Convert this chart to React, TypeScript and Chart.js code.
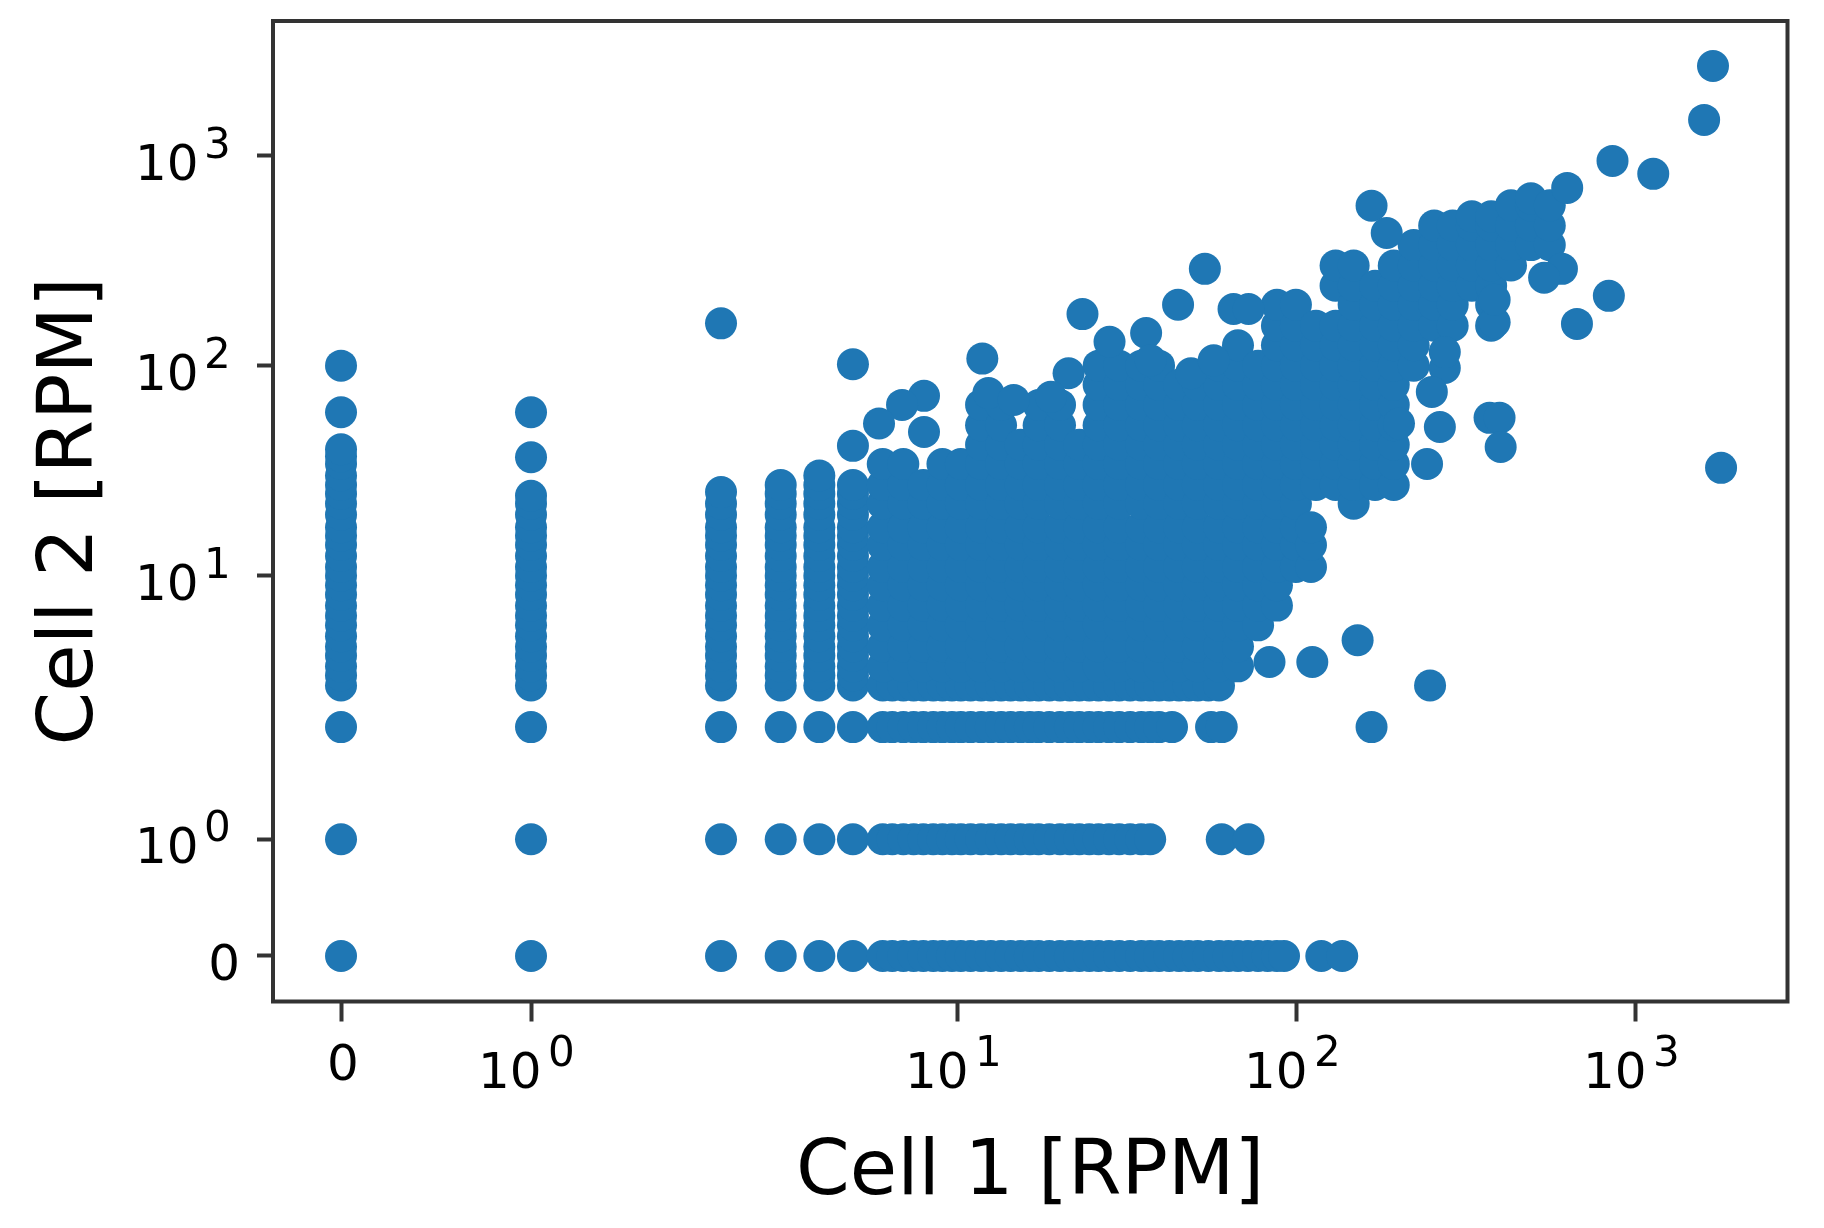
import React, { useEffect, useRef } from "react";
import { Chart, LinearScale, registerables } from "chart.js";

const xTickValues = [0, 1, 10, 100, 1000];
const xTickLabels = ["0", "10^0", "10^1", "10^2", "10^3"];
const yTickValues = [0, 1, 10, 100, 1000];
const yTickLabels = ["0", "10^0", "10^1", "10^2", "10^3"];
const xAxisTitle = "Cell 1 [RPM]";
const yAxisTitle = "Cell 2 [RPM]";

// Cell 2 values in the discrete columns at the left of the plot
const colAt0 = [3, 3.35, 3.7, 4.15, 4.6, 5.15, 5.8, 6.45, 7.2, 8.1, 9, 10, 11, 12.4, 14, 15.5, 17, 19.5, 22, 24.5, 27, 30, 34, 37, 40, 60, 100];
const colAt1 = [3, 3.35, 3.7, 4.15, 4.6, 5.15, 5.8, 6.45, 7.2, 8.1, 9, 10, 11, 12.4, 14, 15.5, 17, 19.5, 22, 24, 36.6, 60];
const colAt2 = [3, 3.35, 3.7, 4.15, 4.6, 5.15, 5.8, 6.45, 7.2, 8.1, 9, 10, 11, 12.4, 14, 15.5, 17, 19.5, 22, 25, 159];
const colAt3 = [3, 3.35, 3.7, 4.15, 4.6, 5.15, 5.8, 6.45, 7.2, 8.1, 9, 10, 11, 12.4, 14, 15.5, 17, 19.5, 22, 24.5, 27];
const colAt3_9 = [3, 3.35, 3.7, 4.15, 4.6, 5.15, 5.8, 6.45, 7.2, 8.1, 9, 10, 11, 12.4, 14, 15.5, 17, 19.5, 22, 24.5, 27, 30];
const colAt4_9 = [3, 3.35, 3.7, 4.15, 4.6, 5.15, 5.8, 6.45, 7.2, 8.1, 9, 10, 11, 12.4, 14, 15.5, 17, 19.5, 22, 24.5, 27, 41.5, 101.5];
const discreteX = [0, 1, 2, 3, 3.9, 4.9];
const discreteCols = [colAt0, colAt1, colAt2, colAt3, colAt3_9, colAt4_9];

// Cell 1 values along the discrete rows at the bottom of the plot
const rowAt0 = [0, 1, 2, 3, 3.9, 4.9, 6, 6.4, 6.9, 7.4, 7.9, 8.45, 9, 9.6, 10.2, 10.9, 11.7, 12.5, 13.4, 14.3, 15.3, 16.3, 17.3, 18.6, 20, 21.4, 22.8, 24.4, 26, 27.9, 29.9, 32.2, 34.7, 36.9, 39.2, 42, 44.9, 47.9, 51, 54.8, 58.9, 62.8, 67, 71.7, 76.8, 82, 87.3, 91.6, 118, 136];
const rowAt1 = [0, 1, 2, 3, 3.9, 4.9, 6, 6.4, 6.9, 7.4, 7.9, 8.45, 9, 9.6, 10.2, 10.9, 11.7, 12.5, 13.4, 14.3, 15.3, 16.3, 17.3, 18.6, 20, 21.4, 22.8, 24.4, 26, 27.9, 29.9, 32.2, 34.7, 36.9, 60, 72];
const rowAt2 = [0, 1, 2, 3, 3.9, 4.9, 6, 6.4, 6.9, 7.4, 7.9, 8.45, 9, 9.6, 10.2, 10.9, 11.7, 12.5, 13.4, 14.3, 15.3, 16.3, 17.3, 18.6, 20, 21.4, 22.8, 24.4, 26, 27.9, 29.9, 32.2, 34.7, 36.9, 39.2, 42.8, 55.8, 60, 166];
const rowAt3 = [6, 6.4, 6.9, 7.4, 7.9, 8.45, 9, 9.6, 10.2, 10.9, 11.7, 12.5, 13.4, 14.3, 15.3, 16.3, 17.3, 18.6, 20, 21.4, 22.8, 24.4, 26, 27.9, 29.9, 32.2, 34.7, 36.9, 39.2, 42, 44.9, 47.9, 51, 54.8, 58.9];
const rowY = [0, 1, 1.96, 3];
const rowLists = [rowAt0, rowAt1, rowAt2, rowAt3];

// Cell 2 values of the dense cloud, one list per Cell 1 value
const at6_0 = [3.7, 4.6, 5.8, 7.2, 9, 11, 14, 17, 22, 27, 34];
const at6_9 = [3.7, 4.6, 5.8, 7.2, 9, 11, 14, 17, 22, 27, 34];
const at7_9 = [3.7, 4.6, 5.8, 7.2, 9, 11, 14, 17, 22, 27];
const at9_0 = [3.7, 4.6, 5.8, 7.2, 9, 11, 14, 17, 22, 27, 34];
const at10_2 = [3.7, 4.6, 5.8, 7.2, 9, 11, 14, 17, 22, 27, 34];
const at11_7 = [3.7, 4.6, 5.8, 7.2, 9, 11, 14, 17, 22, 27, 34, 42, 52, 65];
const at13_4 = [3.7, 4.6, 5.8, 7.2, 9, 11, 14, 17, 22, 27, 34, 42, 52, 65];
const at15_3 = [3.7, 4.6, 5.8, 7.2, 9, 11, 14, 17, 22, 27, 34, 42];
const at17_3 = [3.7, 4.6, 5.8, 7.2, 9, 11, 14, 17, 22, 27, 34, 42, 52, 65];
const at20 = [3.7, 4.6, 5.8, 7.2, 9, 11, 14, 17, 22, 27, 34, 42, 52, 65];
const at22_8 = [3.7, 4.6, 5.8, 7.2, 9, 11, 14, 17, 22, 27, 34, 42];
const at26 = [3.7, 4.6, 5.8, 7.2, 9, 11, 14, 17, 22, 27, 34, 42, 52, 65, 81, 100];
const at29_9 = [3.7, 4.6, 5.8, 7.2, 9, 11, 14, 17, 22, 27, 34, 42, 52, 65, 81, 100];
const at34_7 = [3.7, 4.6, 5.8, 7.2, 9, 11, 14, 17, 22, 27, 34, 42, 52, 65, 81, 100];
const at39_2 = [3.7, 4.6, 5.8, 7.2, 9, 11, 14, 17, 22, 27, 34, 42, 52, 65, 81, 100];
const at44_9 = [3.7, 4.6, 5.8, 7.2, 9, 11, 14, 17, 22, 27, 34, 42, 52, 65, 81];
const at51 = [3.7, 4.6, 5.8, 7.2, 9, 11, 14, 17, 22, 27, 34, 42, 52, 65, 81];
const at58_9 = [3.7, 4.6, 5.8, 7.2, 9, 11, 14, 17, 22, 27, 34, 42, 52, 65, 81, 100];
const at67 = [3.7, 4.6, 5.8, 7.2, 9, 11, 14, 17, 22, 27, 34, 42, 52, 65, 81, 100, 125];
const at76_8 = [5.8, 7.2, 9, 11, 14, 17, 22, 27, 34, 42, 52, 65, 81, 100];
const at87_3 = [7.2, 9, 11, 14, 17, 22, 27, 34, 42, 52, 65, 81, 100, 125, 155, 195];
const at99_3 = [11, 14, 17, 22, 27, 34, 42, 52, 65, 81, 100, 125, 155, 195];
const at113_8 = [27, 34, 42, 52, 65, 81, 100, 125, 155];
const at130 = [27, 34, 42, 52, 65, 81, 100, 125, 155, 240, 300];
const at147 = [22, 27, 34, 42, 52, 65, 81, 100, 125, 155, 195, 240, 300];
const at170 = [27, 34, 42, 52, 65, 81, 100, 125, 155, 195, 240];
const at193 = [27, 34, 42, 52, 65, 81, 100, 125, 155, 195, 240, 300];
const at221 = [100, 125, 155, 195, 240, 300, 375];
const at254 = [155, 195, 240, 300, 375, 465];
const at288 = [155, 195, 240, 300, 375, 465];
const at328 = [240, 300, 375, 465, 514];
const at374 = [155, 195, 240, 300, 375, 465, 514];
const at428 = [300, 375, 465, 580];
const at490 = [375, 465, 580, 626];
const at557 = [375, 465, 580];
const denseX = [6, 6.9, 7.9, 9, 10.2, 11.7, 13.4, 15.3, 17.3, 20, 22.8, 26, 29.9, 34.7, 39.2, 44.9, 51, 58.9, 67, 76.8, 87.3, 99.3, 113.8, 130, 147, 170, 193, 221, 254, 288, 328, 374, 428, 490, 557];
const denseCols = [at6_0, at6_9, at7_9, at9_0, at10_2, at11_7, at13_4, at15_3, at17_3, at20, at22_8, at26, at29_9, at34_7, at39_2, at44_9, at51, at58_9, at67, at76_8, at87_3, at99_3, at113_8, at130, at147, at170, at193, at221, at254, at288, at328, at374, at428, at490, at557];

// Scattered cells around the cloud
const looseX = [1688, 1589, 853, 1125, 627, 166, 184, 53.5, 44.6, 23.3, 65, 72, 832, 670, 605, 536, 383, 383, 1783, 370, 396, 399, 264, 242, 273, 273, 250, 200, 11.8, 7.94, 6.84, 5.85, 7.94, 28, 35.9, 21.2, 37, 48.7, 56.8, 12.3, 14.6, 18.8, 83, 111, 151, 247, 110, 110, 110];
const looseY = [2673, 1479, 944, 819, 702, 577, 428, 289, 195, 176, 186, 186, 215, 158, 289, 262, 161, 206, 32.6, 56.4, 56.4, 41, 51, 34, 97.5, 116, 75, 53, 108, 71.8, 65, 53, 48.3, 130, 143, 92, 106, 92, 106, 74, 68.7, 71, 3.88, 3.88, 4.93, 3, 11, 14, 17];

const points: { x: number; y: number }[] = [
  ...discreteX.flatMap((x, i) => discreteCols[i].map((y) => ({ x, y }))),
  ...rowY.flatMap((y, i) => rowLists[i].map((x) => ({ x, y }))),
  ...denseX.flatMap((x, i) => denseCols[i].map((y) => ({ x, y }))),
  ...looseX.map((x, i) => ({ x, y: looseY[i] })),
];

const INK = "#000000";
const SPINE = "#333333";
const MANTISSA = "50px 'DejaVu Sans'";
const EXPONENT = "42px 'DejaVu Sans'";

class SymlogScale extends (LinearScale as any) {
  static id = "symlog";
  static defaults = {};

  span() {
    return this.axis === "x" ? 1.121 : 1.112;
  }
  forward(v: number) {
    const k = this.span();
    return v <= 2 ? (v * k) / 2 : k + Math.log10(v / 2);
  }
  determineDataLimits() {
    this.min = this.options.min;
    this.max = this.options.max;
  }
  buildTicks() {
    const vals = this.axis === "x" ? xTickValues : yTickValues;
    return vals.map((value) => ({ value }));
  }
  getPixelForValue(v: number) {
    const a = this.forward(this.min);
    const b = this.forward(this.max);
    return this.getPixelForDecimal((this.forward(v) - a) / (b - a));
  }
  getValueForPixel(p: number) {
    const a = this.forward(this.min);
    const b = this.forward(this.max);
    const t = a + this.getDecimalForPixel(p) * (b - a);
    const k = this.span();
    return t <= k ? (t * 2) / k : 2 * Math.pow(10, t - k);
  }
  drawLabels() {
    const ctx = this.ctx;
    ctx.save();
    ctx.fillStyle = INK;
    ctx.textBaseline = "alphabetic";
    ctx.textAlign = "left";
    for (const tick of this.ticks) {
      const p = this.getPixelForValue(tick.value);
      const [base, exp] = String(tick.label).split("^");
      if (this.axis === "x") {
        if (exp === undefined) {
          ctx.font = MANTISSA;
          ctx.textAlign = "center";
          ctx.fillText(base, p + 2, 1080);
          ctx.textAlign = "left";
        } else {
          ctx.font = MANTISSA;
          ctx.fillText(base, p - 53, 1088);
          ctx.font = EXPONENT;
          ctx.fillText(exp, p + 17, 1066);
        }
      } else if (exp === undefined) {
        ctx.font = MANTISSA;
        ctx.textAlign = "right";
        ctx.fillText(base, 240, p + 24);
        ctx.textAlign = "left";
      } else {
        ctx.font = MANTISSA;
        ctx.fillText(base, 135, p + 24);
        ctx.font = EXPONENT;
        ctx.fillText(exp, 204, p + 2);
      }
    }
    ctx.restore();
  }
}

Chart.register(...registerables, SymlogScale as any);

const spines = {
  id: "spines",
  afterDatasetsDraw(chart: any) {
    const { left, top, right, bottom } = chart.chartArea;
    const ctx = chart.ctx;
    ctx.save();
    ctx.strokeStyle = SPINE;
    ctx.lineWidth = 4;
    ctx.strokeRect(left, top, right - left, bottom - top);
    ctx.restore();
  },
};

const noPadding = (s: any) => {
  s.paddingTop = 0;
  s.paddingBottom = 0;
  s.paddingLeft = 0;
  s.paddingRight = 0;
};

export default function App() {
  const ref = useRef<HTMLCanvasElement | null>(null);
  useEffect(() => {
    if (!ref.current) return;
    const chart = new Chart(ref.current, {
      type: "scatter",
      data: {
        datasets: [
          {
            data: points,
            backgroundColor: "#1f77b4",
            borderWidth: 0,
            pointRadius: 16,
            pointHoverRadius: 16,
          },
        ],
      },
      plugins: [spines],
      options: {
        animation: false,
        responsive: false,
        devicePixelRatio: 1,
        layout: { padding: { top: 21, right: 36.5, left: 0, bottom: 0 } },
        plugins: { legend: { display: false }, tooltip: { enabled: false } },
        scales: {
          x: {
            type: "symlog",
            position: "bottom",
            min: -0.358,
            max: 2800,
            afterFit: (s: any) => {
              s.height = 226.5;
              noPadding(s);
            },
            border: { display: false },
            grid: { display: true, drawOnChartArea: false, drawTicks: true, tickLength: 20, tickWidth: 4, tickColor: SPINE },
            ticks: {
              autoSkip: false,
              maxRotation: 0,
              minRotation: 0,
              callback: (_v: any, i: number) => xTickLabels[i],
              font: { family: "'DejaVu Sans'", size: 50 },
              color: INK,
            },
            title: { display: true, text: xAxisTitle, color: INK, font: { family: "'DejaVu Sans'", size: 77, lineHeight: 1 }, padding: { top: 0, bottom: 16 } },
          },
          y: {
            type: "symlog",
            position: "left",
            min: -0.39,
            max: 4376,
            afterFit: (s: any) => {
              s.width = 273;
              noPadding(s);
            },
            border: { display: false },
            grid: { display: true, drawOnChartArea: false, drawTicks: true, tickLength: 16, tickWidth: 4, tickColor: SPINE },
            ticks: {
              autoSkip: false,
              maxRotation: 0,
              minRotation: 0,
              callback: (_v: any, i: number) => yTickLabels[i],
              font: { family: "'DejaVu Sans'", size: 50 },
              color: INK,
            },
            title: { display: true, text: yAxisTitle, color: INK, font: { family: "'DejaVu Sans'", size: 77, lineHeight: 1 }, padding: { top: 33, bottom: 0 } },
          },
        },
      } as any,
    });
    return () => chart.destroy();
  }, []);
  return (
    <div style={{ position: "absolute", left: 0, top: 0, width: 1824, height: 1228, background: "#fff" }}>
      <canvas ref={ref} width={1824} height={1228} style={{ display: "block" }} />
    </div>
  );
}
